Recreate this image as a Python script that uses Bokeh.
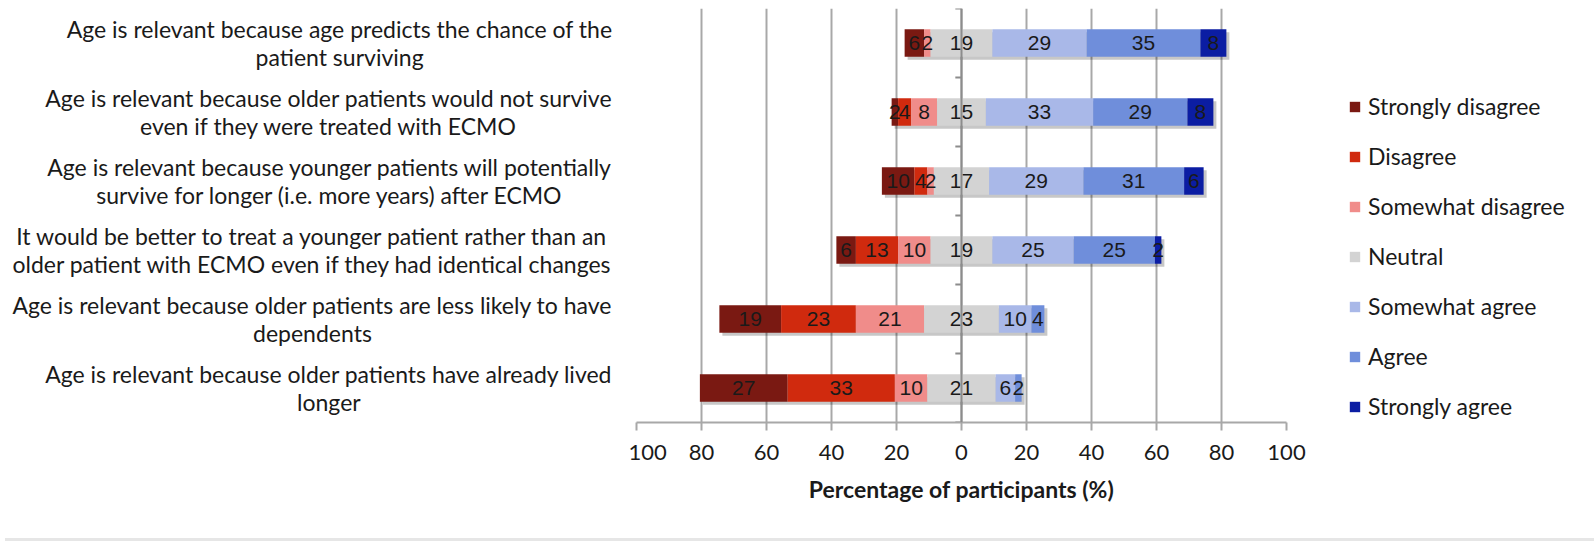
from bokeh.plotting import figure
from bokeh.models import ColumnDataSource, Range1d, FixedTicker, Legend, LegendItem, Span, Div
from bokeh.layouts import row, column
from bokeh.embed import file_html
from bokeh.resources import INLINE
from bokeh.core.properties import value

statements = [
    "Age is relevant because age predicts the chance of the\npatient surviving",
    "Age is relevant because older patients would not survive\neven if they were treated with ECMO",
    "Age is relevant because younger patients will potentially\nsurvive for longer (i.e. more years) after ECMO",
    "It would be better to treat a younger patient rather than an\nolder patient with ECMO even if they had identical changes",
    "Age is relevant because older patients are less likely to have\ndependents",
    "Age is relevant because older patients have already lived\nlonger",
]
levels = ["Strongly disagree", "Disagree", "Somewhat disagree", "Neutral",
          "Somewhat agree", "Agree", "Strongly agree"]
strongly_disagree = [6, 2, 10, 6, 19, 27]
disagree = [0, 4, 4, 13, 23, 33]
somewhat_disagree = [2, 8, 2, 10, 21, 10]
neutral = [19, 15, 17, 19, 23, 21]
somewhat_agree = [29, 33, 29, 25, 10, 6]
agree = [35, 29, 31, 25, 4, 2]
strongly_agree = [8, 8, 6, 2, 0, 0]
colors = ["#7a1912", "#d02a0e", "#f08c8a", "#d3d3d3", "#a9b8e8", "#6f8edb", "#0b1da3"]
tick_values = [-100, -80, -60, -40, -20, 0, 20, 40, 60, 80, 100]
tick_labels = ["100", "80", "60", "40", "20", "0", "20", "40", "60", "80", "100"]

series = [strongly_disagree, disagree, somewhat_disagree, neutral,
          somewhat_agree, agree, strongly_agree]
n = len(statements)
ys = [n - 1 - i for i in range(n)]

FONT = "Lato"
TXT = "#1a1a1a"
GRID = "#a8a8a8"
TOP = 8

p = figure(x_range=Range1d(-100, 100), y_range=Range1d(-0.5, n - 0.5),
           frame_width=650, frame_height=414,
           min_border_left=8, min_border_right=290, min_border_top=TOP, min_border_bottom=100,
           y_axis_location=None, output_backend="svg", toolbar_location=None)
p.outline_line_color = None
p.ygrid.visible = False
p.xgrid.ticker = FixedTicker(ticks=tick_values)
p.xgrid.grid_line_color = GRID
p.xgrid.grid_line_width = 2

ax = p.xaxis[0]
ax.ticker = FixedTicker(ticks=tick_values)
ax.major_label_overrides = {v: l for v, l in zip(tick_values, tick_labels)}
ax.axis_line_color = GRID
ax.axis_line_width = 2
ax.major_tick_line_color = GRID
ax.major_tick_line_width = 2
ax.major_tick_out = 8
ax.major_tick_in = 0
ax.minor_tick_line_color = None
ax.major_label_text_font = FONT
ax.major_label_text_font_size = "22px"
ax.major_label_text_color = TXT
ax.major_label_standoff = 14
ax.axis_label = "Percentage of participants (%)"
ax.axis_label_text_font = FONT
ax.axis_label_text_font_style = "bold"
ax.axis_label_text_font_size = "23px"
ax.axis_label_text_color = TXT
ax.axis_label_standoff = 12

# starting position of each row (neutral centred on zero)
starts = [-(neutral[i] / 2 + somewhat_disagree[i] + disagree[i] + strongly_disagree[i]) for i in range(n)]
ends = [neutral[i] / 2 + somewhat_agree[i] + agree[i] + strongly_agree[i] for i in range(n)]

# soft drop shadow
sh_dx = 3 / 3.25
sh_dy = 3 / 69.0
p.hbar(y=[y - sh_dy for y in ys], left=[s + sh_dx for s in starts], right=[e + sh_dx for e in ends],
       height=0.40, fill_color="#000000", fill_alpha=0.22, line_color=None)

# zero axis line and its category ticks
p.add_layout(Span(location=0, dimension="height", line_color="#8c8c8c", line_width=2))
bounds = [k - 0.5 for k in range(n + 1)]
p.segment(x0=[0] * (n + 1), y0=bounds, x1=[-1.9] * (n + 1), y1=bounds,
          line_color="#8c8c8c", line_width=2)

cum = list(starts)
items = []
label_x, label_y, label_t = [], [], []
for lev, vals, col in zip(levels, series, colors):
    left = list(cum)
    right = [cum[i] + vals[i] for i in range(n)]
    src = ColumnDataSource(dict(y=ys, left=left, right=right))
    r = p.hbar(y="y", left="left", right="right", height=0.40, source=src,
               fill_color=col, line_color=None)
    items.append(LegendItem(label=lev, renderers=[r]))
    for i in range(n):
        if vals[i] > 0:
            label_x.append((left[i] + right[i]) / 2)
            label_y.append(ys[i])
            label_t.append(str(vals[i]))
    cum = right

p.text(x=label_x, y=label_y, text=label_t, text_align="center", text_baseline="middle",
       text_font=value("Liberation Sans"), text_font_size="21px", text_color=TXT)

legend = Legend(items=items, location=(62, 2), orientation="vertical",
                glyph_width=13, glyph_height=13, label_standoff=7, spacing=22,
                padding=0, margin=0, border_line_color=None, background_fill_alpha=0,
                label_text_font=FONT, label_text_font_size="23px", label_text_color=TXT,
                label_height=20)
p.add_layout(legend, "right")

# statement labels panel (shares the vertical scale)
pl = figure(x_range=Range1d(0, 628), y_range=p.y_range, frame_width=628, frame_height=414,
            min_border=0, min_border_top=TOP, x_axis_location=None, y_axis_location=None,
            output_backend="svg", toolbar_location=None)
pl.outline_line_color = None
pl.grid.visible = False
pl.text(x=[612] * n, y=ys, text=statements, anchor=value("center_right"), text_align="center",
        text_baseline="middle", y_offset=0, text_font=value(FONT), text_font_size="23px",
        text_line_height=0.98, text_color=TXT)

# thin light rule under the figure, as in the source page
rule = Div(text="", width=1590, height=14, styles={"border-bottom": "3px solid #e6e6e6"})

layout = column(row(pl, p), rule)
open("out.html", "w").write(file_html(layout, INLINE))
